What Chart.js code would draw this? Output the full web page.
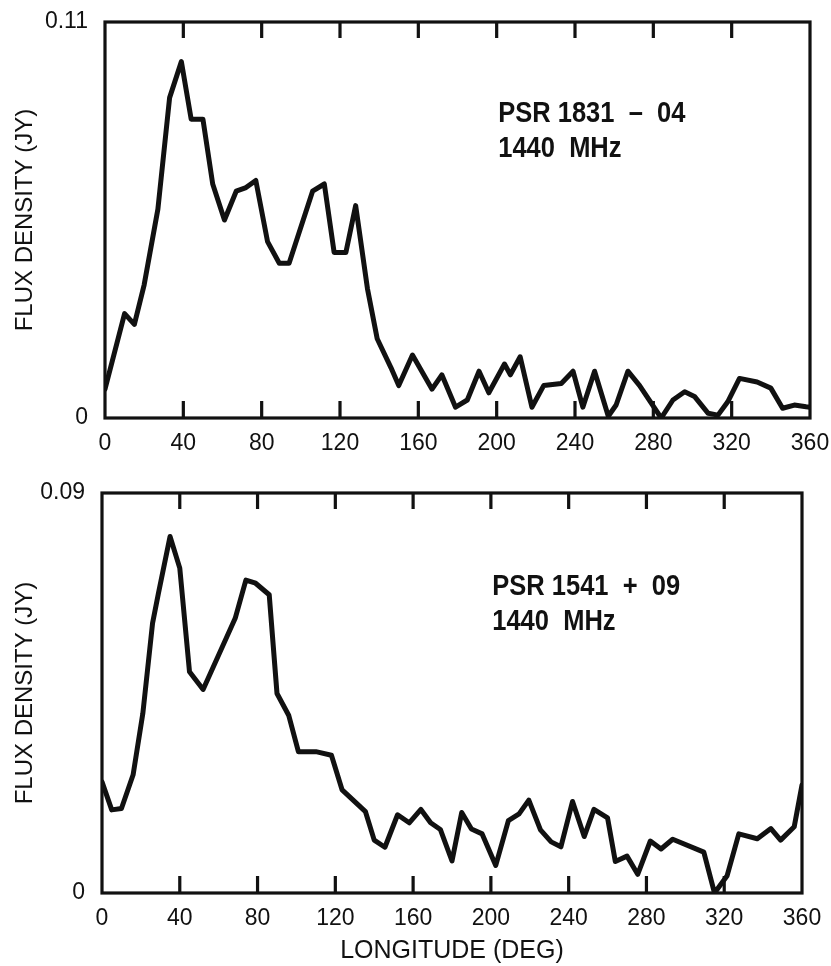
<!DOCTYPE html>
<html>
<head>
<meta charset="utf-8">
<script src="https://cdn.jsdelivr.net/npm/chart.js@4/dist/chart.umd.min.js"></script>
<style>
  body { margin: 0; background: #fff; }
  .wrap { position: relative; width: 831px; height: 966px; }
  canvas { position: absolute; left: 0; }
</style>
</head>
<body>
<div class="wrap">
  <canvas id="topChart" width="831" height="465" style="top:0"></canvas>
  <canvas id="bottomChart" width="831" height="496" style="top:470px"></canvas>
</div>
<script>
// longitude ticks (deg)
const lonTicks = [0, 40, 80, 120, 160, 200, 240, 280, 320, 360];

// PSR 1831-04, 1440 MHz
const topLon = [0, 10, 15, 20, 27, 33, 39, 44, 50, 55,
  61, 67, 72, 77, 83, 89, 94, 106, 112, 117,
  123, 128, 134, 139, 146, 150, 157, 167, 172, 179,
  185, 191, 196, 204, 207, 212, 218, 224, 233, 239,
  244, 250, 257, 261, 267, 273, 284, 290, 296, 301,
  308, 313, 318, 324, 333, 340, 346, 352, 358, 360];
const topFlux = [0.008, 0.029, 0.026, 0.037, 0.058, 0.089, 0.099, 0.083, 0.083, 0.065,
  0.055, 0.063, 0.064, 0.066, 0.049, 0.043, 0.043, 0.063, 0.065, 0.046,
  0.046, 0.059, 0.036, 0.022, 0.014, 0.009, 0.0175, 0.008, 0.012, 0.003,
  0.005, 0.013, 0.007, 0.015, 0.012, 0.017, 0.003, 0.009, 0.0096, 0.013,
  0.003, 0.013, 0.0005, 0.0036, 0.013, 0.009, 0, 0.005, 0.0073, 0.006,
  0.0013, 0.0008, 0.0045, 0.011, 0.010, 0.0083, 0.0027, 0.0036, 0.0031, 0.003];
const topYTicks = [0, 0.11];
const topLabel = ["PSR 1831  \u2013  04", "1440  MHz"];

// PSR 1541+09, 1440 MHz
const botLon = [0, 5, 10, 16, 21, 26, 29, 35, 40, 45,
  52, 68.5, 74, 79, 86, 90, 96, 101, 110, 118,
  123.5, 135.5, 140, 145.5, 152, 158, 164, 169, 174, 180,
  185, 190, 195.5, 202.5, 209, 214.5, 219.5, 225.5, 231, 236,
  242, 248, 253, 260, 264, 270, 275.5, 282, 287.5, 293.5,
  309.5, 315, 321.5, 327.5, 337, 344, 349, 356, 360];
const botFlux = [0.025, 0.0187, 0.019, 0.0266, 0.0404, 0.0607, 0.0674, 0.0802, 0.0731, 0.0498,
  0.0458, 0.0618, 0.0704, 0.0697, 0.0671, 0.0449, 0.040, 0.0318, 0.0318, 0.031,
  0.0232, 0.0183, 0.0119, 0.0103, 0.0176, 0.0158, 0.0188, 0.0158, 0.0143, 0.0072,
  0.0181, 0.0144, 0.0133, 0.0062, 0.0163, 0.0178, 0.0209, 0.0142, 0.0115, 0.0104,
  0.0206, 0.0127, 0.0188, 0.0169, 0.0071, 0.0083, 0.0042, 0.0117, 0.0099, 0.0121,
  0.0092, 0, 0.0039, 0.0133, 0.0122, 0.0145, 0.0119, 0.0149, 0.0243];
const botYTicks = [0, 0.09];
const botLabel = ["PSR 1541  +  09", "1440  MHz"];

const INK = "#111";
const FONT = "'Liberation Sans', Arial, sans-serif";

// box frame, inward tick marks and the pulsar label
const framePlugin = {
    id: "frame",
    afterDatasetsDraw(chart, args, opts) {
        const { ctx, chartArea: a, scales: { x, y } } = chart;
        ctx.save();
        ctx.strokeStyle = INK;
        ctx.lineWidth = 3.2;
        ctx.strokeRect(a.left, a.top, a.right - a.left, a.bottom - a.top);
        ctx.beginPath();
        lonTicks.forEach(v => {
            if (v === x.min || v === x.max) return;
            const px = x.getPixelForValue(v);
            ctx.moveTo(px, a.top);
            ctx.lineTo(px, a.top + 16);
            ctx.moveTo(px, a.bottom);
            ctx.lineTo(px, a.bottom - 17);
        });
        ctx.stroke();

        ctx.fillStyle = INK;
        ctx.font = "bold 30px " + FONT;
        ctx.textBaseline = "alphabetic";
        opts.lines.forEach((s, i) => {
            ctx.save();
            ctx.translate(x.getPixelForValue(opts.lon), y.getPixelForValue(opts.flux[i]));
            ctx.scale(0.85, 1);
            ctx.fillText(s, 0, 0);
            ctx.restore();
        });
        ctx.restore();
    }
};

function makeChart(id, lon, flux, yTicks, label, cfg) {
    return new Chart(document.getElementById(id), {
        type: "line",
        data: {
            datasets: [{
                data: lon.map((v, i) => ({ x: v, y: flux[i] })),
                borderColor: INK,
                borderWidth: 5,
                borderJoinStyle: "round",
                borderCapStyle: "round",
                pointRadius: 0,
                tension: 0,
                fill: false
            }]
        },
        options: {
            responsive: false,
            animation: false,
            layout: { padding: { top: cfg.padTop, right: cfg.padRight, left: 0, bottom: 0 } },
            plugins: {
                legend: { display: false },
                tooltip: { enabled: false },
                frame: { lines: label, lon: cfg.labelLon, flux: cfg.labelFlux }
            },
            scales: {
                x: {
                    type: "linear",
                    min: 0,
                    max: 360,
                    grid: { display: false },
                    border: { display: false },
                    afterBuildTicks: axis => { axis.ticks = lonTicks.map(v => ({ value: v })); },
                    afterFit: axis => {
                        axis.height = cfg.xHeight;
                        axis.paddingLeft = 0;
                        axis.paddingRight = 0;
                    },
                    ticks: {
                        autoSkip: false,
                        maxRotation: 0,
                        padding: 4,
                        color: INK,
                        font: { family: FONT, size: 23 }
                    },
                    title: {
                        display: cfg.xTitle,
                        text: "LONGITUDE (DEG)",
                        color: INK,
                        font: { family: FONT, size: 25 },
                        padding: { top: 0, bottom: 0 }
                    }
                },
                y: {
                    min: yTicks[0],
                    max: yTicks[yTicks.length - 1],
                    grid: { display: false },
                    border: { display: false },
                    afterBuildTicks: axis => { axis.ticks = yTicks.map(v => ({ value: v })); },
                    afterFit: axis => {
                        axis.width = cfg.yWidth;
                        axis.paddingTop = 0;
                        axis.paddingBottom = 0;
                    },
                    ticks: {
                        padding: 9,
                        color: INK,
                        font: { family: FONT, size: 23 },
                        callback: v => String(v)
                    },
                    title: {
                        display: true,
                        text: "FLUX DENSITY (JY)",
                        color: INK,
                        font: { family: FONT, size: 24 },
                        padding: { top: 11, bottom: 0 }
                    }
                }
            }
        },
        plugins: [framePlugin]
    });
}

makeChart("topChart", topLon, topFlux, topYTicks, topLabel, {
    padTop: 22, padRight: 21, yWidth: 105, xHeight: 47, xTitle: false,
    labelLon: 200.8, labelFlux: [0.0823, 0.0725]
});

makeChart("bottomChart", botLon, botFlux, botYTicks, botLabel, {
    padTop: 23, padRight: 29, yWidth: 102, xHeight: 73, xTitle: true,
    labelLon: 200.7, labelFlux: [0.067, 0.0592]
});
</script>
</body>
</html>
